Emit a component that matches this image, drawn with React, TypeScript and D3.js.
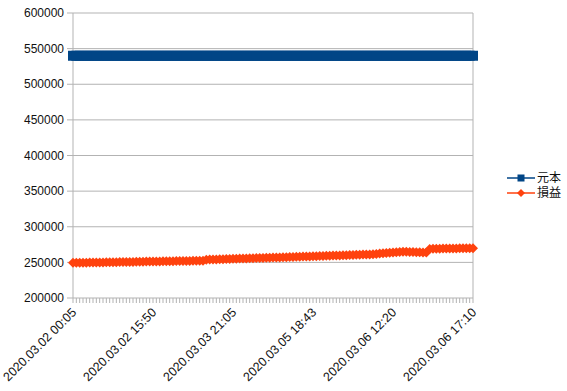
import { useEffect, useRef } from "react"
import * as d3 from "d3"

// tick labels shown every 24 points on the category axis
const tickLabels = [
    "2020.03.02 00:05",
    "2020.03.02 15:50",
    "2020.03.03 21:05",
    "2020.03.05 18:43",
    "2020.03.06 12:20",
    "2020.03.06 17:10",
]
const labelEvery = 24

const seriesNames = ["元本", "損益"]

const principal = [
    540000, 540000, 540000, 540000, 540000, 540000, 540000, 540000, 540000, 540000, 540000,
    540000, 540000, 540000, 540000, 540000, 540000, 540000, 540000, 540000, 540000, 540000,
    540000, 540000, 540000, 540000, 540000, 540000, 540000, 540000, 540000, 540000, 540000,
    540000, 540000, 540000, 540000, 540000, 540000, 540000, 540000, 540000, 540000, 540000,
    540000, 540000, 540000, 540000, 540000, 540000, 540000, 540000, 540000, 540000, 540000,
    540000, 540000, 540000, 540000, 540000, 540000, 540000, 540000, 540000, 540000, 540000,
    540000, 540000, 540000, 540000, 540000, 540000, 540000, 540000, 540000, 540000, 540000,
    540000, 540000, 540000, 540000, 540000, 540000, 540000, 540000, 540000, 540000, 540000,
    540000, 540000, 540000, 540000, 540000, 540000, 540000, 540000, 540000, 540000, 540000,
    540000, 540000, 540000, 540000, 540000, 540000, 540000, 540000, 540000, 540000, 540000,
    540000, 540000, 540000, 540000, 540000, 540000, 540000, 540000, 540000, 540000, 540000,
]

const profit = [
    249300, 249400, 249500, 249500, 249600, 249700, 249800, 249900, 249900, 250000,
    250100, 250200, 250300, 250300, 250400, 250500, 250600, 250700, 250700, 250800,
    250900, 251000, 251100, 251100, 251200, 251300, 251400, 251500, 251500, 251600,
    251700, 251800, 251900, 251900, 252000, 252100, 252200, 252300, 252300, 252400,
    253800, 253900, 254100, 254200, 254400, 254500, 254700, 254800, 255000, 255100,
    255300, 255400, 255600, 255700, 255900, 256000, 256200, 256300, 256500, 256600,
    256700, 256800, 257000, 257100, 257300, 257500, 257600, 257800, 257900, 258100,
    258200, 258400, 258500, 258700, 258900, 259000, 259200, 259300, 259500, 259600,
    259800, 259900, 260100, 260300, 260400, 260600, 260700, 260900, 261000, 261200,
    261500, 261900, 262300, 262700, 263100, 263500, 263900, 264300, 264600, 264900,
    264900, 264700, 264500, 264300, 264100, 263900, 263800,
    268900, 269000, 269100, 269200, 269300, 269300, 269400, 269500, 269600, 269700,
    269700, 269800, 269900, 270000,
]

const yTicks = [200000, 250000, 300000, 350000, 400000, 450000, 500000, 550000, 600000]

const colors = ["#004586", "#ff420e"]

export default function App() {
    const svgRef = useRef(null)

    useEffect(() => {
        const width = 567
        const height = 391
        const margin = { top: 13, right: 94, bottom: 93, left: 73 }
        const font = "'Liberation Sans', Arial, 'Noto Sans CJK JP', sans-serif"

        const root = d3.select(svgRef.current)
        root.selectAll("*").remove()
        root.attr("width", width).attr("height", height)

        const svg = root.append("g")
        const innerW = width - margin.left - margin.right
        const innerH = height - margin.top - margin.bottom

        const idx = d3.range(profit.length)
        const x = d3
            .scalePoint()
            .domain(idx)
            .range([margin.left, margin.left + innerW])
        const y = d3
            .scaleLinear()
            .domain([200000, 600000])
            .range([margin.top + innerH, margin.top])

        // horizontal grid + y ticks
        svg
            .selectAll(".grid")
            .data(yTicks)
            .enter()
            .append("line")
            .attr("x1", margin.left - 6)
            .attr("x2", margin.left + innerW)
            .attr("y1", (d) => y(d))
            .attr("y2", (d) => y(d))
            .attr("stroke", "#b3b3b3")
            .attr("stroke-width", 1)

        svg
            .selectAll(".ylab")
            .data(yTicks)
            .enter()
            .append("text")
            .attr("x", margin.left - 9)
            .attr("y", (d) => y(d))
            .attr("dy", "0.35em")
            .attr("text-anchor", "end")
            .attr("font-family", font)
            .attr("font-size", 12)
            .attr("fill", "#111")
            .text((d) => d)

        // left axis and right border
        ;[margin.left, margin.left + innerW].forEach((xx) => {
            svg
                .append("line")
                .attr("x1", xx)
                .attr("x2", xx)
                .attr("y1", margin.top)
                .attr("y2", margin.top + innerH)
                .attr("stroke", "#b3b3b3")
        })

        // x ticks, one per point
        svg
            .selectAll(".xtick")
            .data(idx)
            .enter()
            .append("line")
            .attr("x1", (d) => x(d))
            .attr("x2", (d) => x(d))
            .attr("y1", margin.top + innerH)
            .attr("y2", margin.top + innerH + 5)
            .attr("stroke", "#b3b3b3")
            .attr("stroke-width", 1)

        svg
            .selectAll(".xlab")
            .data(tickLabels)
            .enter()
            .append("text")
            .attr(
                "transform",
                (d, i) => `translate(${x(i * labelEvery) + 1},${margin.top + innerH + 12}) rotate(-45)`
            )
            .attr("dy", "0.35em")
            .attr("text-anchor", "end")
            .attr("font-family", font)
            .attr("font-size", 12.5)
            .attr("fill", "#111")
            .text((d) => d)

        const line = d3
            .line()
            .x((d, i) => x(i))
            .y((d) => y(d))

        const diamond = (s) => `M0,${-s}L${s},0L0,${s}L${-s},0Z`

        const drawSeries = (values, color, shape) => {
            svg
                .append("path")
                .datum(values)
                .attr("d", line)
                .attr("fill", "none")
                .attr("stroke", color)
                .attr("stroke-width", 1.5)
            const g = svg.append("g").attr("fill", color)
            values.forEach((v, i) => {
                if (shape === "square") {
                    g.append("rect")
                        .attr("x", x(i) - 5)
                        .attr("y", y(v) - 5)
                        .attr("width", 10)
                        .attr("height", 10)
                } else {
                    g.append("path")
                        .attr("transform", `translate(${x(i)},${y(v)})`)
                        .attr("d", diamond(5))
                }
            })
        }

        drawSeries(principal, colors[0], "square")
        drawSeries(profit, colors[1], "diamond")

        // legend
        const legend = svg.append("g").attr("transform", "translate(507,178)")
        seriesNames.forEach((name, i) => {
            const gy = i * 15
            legend
                .append("line")
                .attr("x1", 0)
                .attr("x2", 28)
                .attr("y1", gy)
                .attr("y2", gy)
                .attr("stroke", colors[i])
                .attr("stroke-width", 1.5)
            if (i === 0) {
                legend
                    .append("rect")
                    .attr("x", 14 - 3.5)
                    .attr("y", gy - 3.5)
                    .attr("width", 7)
                    .attr("height", 7)
                    .attr("fill", colors[i])
            } else {
                legend
                    .append("path")
                    .attr("transform", `translate(14,${gy})`)
                    .attr("d", diamond(4))
                    .attr("fill", colors[i])
            }
            legend
                .append("text")
                .attr("x", 30)
                .attr("y", gy)
                .attr("dy", "0.35em")
                .attr("font-family", font)
                .attr("font-size", 12)
                .attr("fill", "#111")
                .text(name)
        })
    }, [])

    return (
        <div style={{ position: "absolute", left: 0, top: 0 }}>
            <svg ref={svgRef}></svg>
        </div>
    )
}
